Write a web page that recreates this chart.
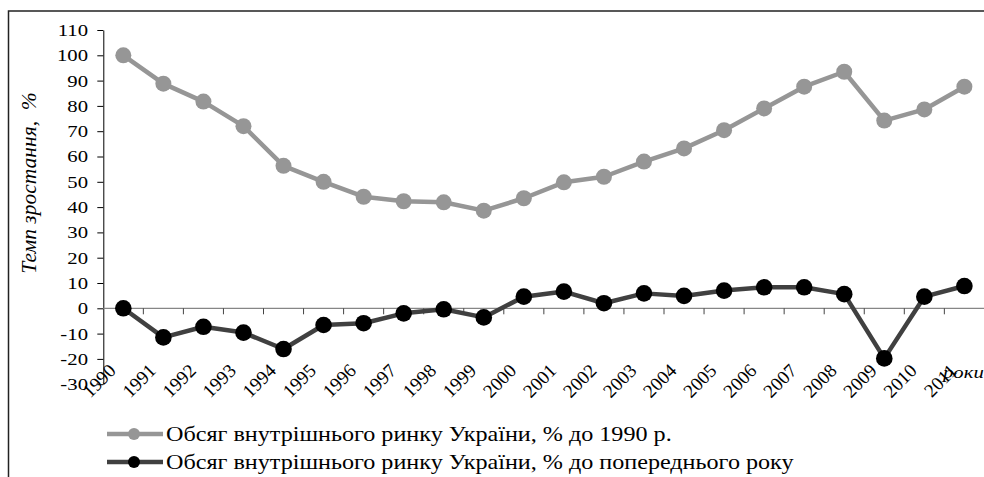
<!DOCTYPE html>
<html>
  <head>
    <meta charset="UTF-8" />
    <title>Темп зростання</title>
    <style>
      body {
        margin: 0;
        background: #fff;
      }
    </style>
  </head>
  <body>
    <div id="main"></div>
    <script src="https://cdn.jsdelivr.net/npm/d3@7"></script>
    <script>
      const years = d3.range(1990, 2012).map(String)
      const toBase = [100, 88.8, 81.7, 72, 56.3, 50, 44.1, 42.3, 41.9, 38.6, 43.5, 49.8, 52, 58, 63.2, 70.4, 79, 87.6, 93.5, 74.2, 78.6, 87.6]
      const toPrev = [0, -11.5, -7.3, -9.6, -16.1, -6.6, -5.9, -2, -0.4, -3.6, 4.6, 6.6, 2, 5.9, 4.9, 7, 8.3, 8.3, 5.6, -19.8, 4.6, 8.8]
      const yTicks = d3.range(-30, 111, 10)
      const seriesNames = [
        'Обсяг внутрішнього ринку України, % до 1990 р.',
        'Обсяг внутрішнього ринку України, % до попереднього року'
      ]

      const [width, height] = [984, 477]
      const plot = { left: 103.3, right: 984.4, top: 30, bottom: 384.2 }
      const fontName = 'Liberation Serif'
      // the source picture is slightly stretched sideways
      const stretch = 1.22

      const svg = d3
        .select('#main')
        .append('svg')
        .attr('width', width)
        .attr('height', height)
        .attr('viewBox', `0 0 ${width} ${height}`)
        .style('display', 'block')

      // outer frame (right and bottom edges fall outside the picture)
      svg
        .append('rect')
        .attr('x', 8.5)
        .attr('y', 11)
        .attr('width', 1000)
        .attr('height', 500)
        .attr('fill', 'none')
        .attr('stroke', '#222')
        .attr('stroke-width', 1.5)

      const xScale = d3
        .scaleBand()
        .domain(years)
        .range([plot.left, plot.right])
      const step = xScale.step()
      const xc = d => xScale(d) + step / 2

      const yScale = d3
        .scaleLinear()
        .domain([-30, 110])
        .range([plot.bottom, plot.top])

      // y axis
      const yAxis = svg
        .append('g')
        .attr('transform', `translate(${plot.left}, 0)`)
        .call(
          d3
            .axisLeft(yScale)
            .tickValues(yTicks)
            .tickFormat(d => String(d))
            .tickSize(6)
            .tickSizeOuter(0)
        )
      yAxis.attr('font-size', 17)
      yAxis
        .selectAll('text')
        .attr('fill', '#000')
        .attr('x', -15.3 / stretch)
        .attr('transform', `scale(${stretch}, 1)`)
      yAxis.selectAll('line, path').attr('stroke', '#000')

      // x axis line at zero, ticks between categories
      const xAxis = svg.append('g')
      xAxis
        .append('line')
        .attr('x1', plot.left)
        .attr('x2', plot.right)
        .attr('y1', yScale(0))
        .attr('y2', yScale(0))
        .attr('stroke', '#868686')
        .attr('stroke-width', 1.2)
      xAxis
        .selectAll('line.tick')
        .data(years.slice(0, -1))
        .join('line')
        .attr('class', 'tick')
        .attr('x1', d => xScale(d) + step)
        .attr('x2', d => xScale(d) + step)
        .attr('y1', yScale(0))
        .attr('y2', yScale(0) + 6)
        .attr('stroke', '#444')

      // category labels, low position, rotated
      svg
        .append('g')
        .selectAll('text')
        .data(years)
        .join('text')
        .attr('transform', d => `translate(${xc(d) - 11}, ${plot.bottom - 17}) rotate(-45)`)
        .attr('text-anchor', 'end')
        .attr('dy', '0.35em')
        .attr('font-size', 19)
        .text(d => d)

      svg
        .append('text')
        .attr('transform', `translate(943, 378) scale(${stretch}, 1)`)
        .attr('font-size', 17)
        .attr('font-style', 'italic')
        .text('роки')

      svg
        .append('text')
        .attr('transform', 'translate(36, 183) rotate(-90)')
        .attr('text-anchor', 'middle')
        .attr('font-size', 21.5)
        .attr('font-style', 'italic')
        .attr('xml:space', 'preserve')
        .text('Темп зростання,  %')

      const line = d3
        .line()
        .x((_, i) => xc(years[i]))
        .y(d => yScale(d))

      const series = [
        { values: toBase, stroke: '#969696', fill: '#969696', r: 8 },
        { values: toPrev, stroke: '#404040', fill: '#000', r: 8.3 }
      ]

      series.forEach(s => {
        svg
          .append('path')
          .datum(s.values)
          .attr('d', line)
          .attr('fill', 'none')
          .attr('stroke', s.stroke)
          .attr('stroke-width', 4.5)
          .attr('stroke-linejoin', 'round')
        svg
          .append('g')
          .selectAll('circle')
          .data(s.values)
          .join('circle')
          .attr('cx', (_, i) => xc(years[i]))
          .attr('cy', d => yScale(d))
          .attr('r', s.r)
          .attr('fill', s.fill)
      })

      // legend
      const legend = svg
        .append('g')
        .selectAll('g')
        .data(series)
        .join('g')
        .attr('transform', (_, i) => `translate(107, ${434 + i * 28})`)
      legend
        .append('line')
        .attr('x1', 0)
        .attr('x2', 56)
        .attr('stroke', d => d.stroke)
        .attr('stroke-width', 4.5)
      legend
        .append('circle')
        .attr('cx', 27)
        .attr('r', 6)
        .attr('fill', d => d.fill)
      legend
        .append('text')
        .attr('transform', 'translate(59, 0) scale(1.15, 1)')
        .attr('dy', '0.35em')
        .attr('font-size', 21)
        .text((_, i) => seriesNames[i])

      // every label in the serif face
      svg.selectAll('text').attr('font-family', fontName)
    </script>
  </body>
</html>
